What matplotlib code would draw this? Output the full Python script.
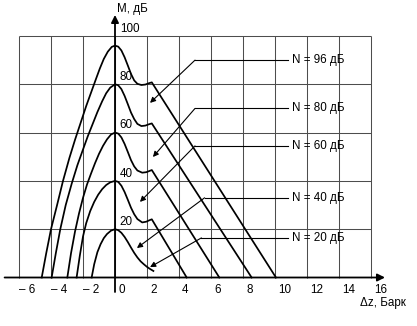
import matplotlib
matplotlib.use("Agg")
import matplotlib.pyplot as plt

plt.rcParams["font.family"] = ["Liberation Sans", "DejaVu Sans"]

# masker levels, dB
levels = [96, 80, 60, 40, 20]

# masking curves, (dz in Bark, M in dB)
x96 = [-4.58, -4.3, -4.0, -3.62, -3.25, -2.85, -2.5, -2.15, -1.8, -1.5, -1.2, -0.95, -0.7, -0.45, -0.2, 0.0,
       0.2, 0.4, 0.6, 0.8, 1.0, 1.2, 1.4, 1.65, 1.9, 2.1, 2.3, 10.06]
y96 = [0, 10, 20, 30, 40, 49.5, 57, 64, 71, 76.5, 82, 86.5, 90.5, 93.5, 95.5, 96,
       95.6, 94, 91.2, 87.8, 84.3, 81.6, 80.2, 79.7, 79.9, 80.4, 80.8, 0]

x80 = [-3.96, -3.7, -3.42, -3.08, -2.7, -2.35, -2.0, -1.7, -1.4, -1.1, -0.8, -0.55, -0.3, 0.0,
       0.2, 0.4, 0.6, 0.8, 1.0, 1.2, 1.4, 1.65, 1.9, 2.1, 2.3, 8.54]
y80 = [0, 10, 20, 30, 39, 46.5, 53, 58.5, 63.5, 68.5, 73, 76.3, 78.6, 80,
       79.6, 78, 75.2, 71.8, 68.3, 65.6, 63.6, 62.7, 62.9, 63.4, 63.8, 0]

x60 = [-2.98, -2.75, -2.5, -2.25, -2.0, -1.75, -1.5, -1.25, -1.0, -0.75, -0.5, -0.25, 0.0,
       0.2, 0.4, 0.6, 0.8, 1.0, 1.2, 1.4, 1.7, 1.95, 2.15, 2.3, 6.52]
y60 = [0, 10, 19, 26.5, 33, 38.5, 43, 47.3, 51.2, 54.5, 57.2, 59.2, 60,
       59.6, 58, 55.3, 52, 48.6, 46, 44.3, 43.4, 43.6, 44.1, 44.5, 0]

x40 = [-2.4, -2.2, -2.0, -1.8, -1.55, -1.3, -1.05, -0.8, -0.55, -0.3, 0.0,
       0.2, 0.4, 0.6, 0.8, 1.0, 1.2, 1.4, 1.7, 1.95, 2.15, 2.3, 4.48]
y40 = [0, 9, 17, 22.5, 27.5, 31.3, 34.3, 36.6, 38.3, 39.4, 40,
       39.6, 38, 35.4, 32.2, 28.9, 26.2, 24.2, 22.8, 23.1, 23.7, 24.1, 0]

x20 = [-1.46, -1.3, -1.1, -0.9, -0.7, -0.5, -0.25, 0.0,
       0.2, 0.4, 0.6, 0.8, 1.0, 1.2, 1.4, 1.6, 1.8, 2.0, 2.2, 2.4]
y20 = [0, 5.5, 10.5, 13.8, 16.3, 18, 19.4, 20,
       19.6, 18.5, 16.8, 14.7, 12.4, 10.2, 8.3, 6.7, 5.5, 4.4, 3.5, 2.7]

curves_x = [x96, x80, x60, x40, x20]
curves_y = [y96, y80, y60, y40, y20]

# callout leaders: height of the label line, knee x, arrow tip
label_y = [90, 70, 54.5, 33, 16.4]
knee_x = [5.0, 5.0, 5.0, 5.6, 5.4]
tip_x = [2.19, 2.37, 1.56, 1.37, 2.19]
tip_y = [72.3, 49.9, 31.3, 12.2, 4.3]

x_ticks = [-6, -4, -2, 0, 2, 4, 6, 8, 10, 12, 14, 16]
y_ticks = [20, 40, 60, 80, 100]

fig = plt.figure(figsize=(4.17, 3.26), dpi=100)
ax = fig.add_axes([0, 0, 1, 1])
ax.set_xlim(-7.1875, 18.875)
ax.set_ylim(-20.08, 114.9)
ax.axis("off")

# grid box
ax.vlines(x_ticks, 0, 100, color="#4d4d4d", lw=0.75, zorder=1)
ax.hlines(y_ticks, -6, 16, color="#4d4d4d", lw=0.75, zorder=1)

# axes with arrows
ax.annotate("", xy=(16.875, 0), xytext=(-6.9, 0),
            arrowprops=dict(arrowstyle="-|>", lw=1.3, color="k", mutation_scale=11,
                            shrinkA=0, shrinkB=0), zorder=3)
ax.annotate("", xy=(0, 108.7), xytext=(0, -6),
            arrowprops=dict(arrowstyle="-|>", lw=1.3, color="k", mutation_scale=11,
                            shrinkA=0, shrinkB=0), zorder=3)

for xs, ys in zip(curves_x, curves_y):
    ax.plot(xs, ys, color="k", lw=1.25, solid_joinstyle="round", zorder=2)

fs = 8.4
for lev, ly, kx, tx, ty in zip(levels, label_y, knee_x, tip_x, tip_y):
    ax.plot([10.8, kx], [ly, ly], color="k", lw=0.8, zorder=2)
    ax.annotate("", xy=(tx, ty), xytext=(kx, ly),
                arrowprops=dict(arrowstyle="-|>", lw=0.8, color="k", mutation_scale=8,
                                shrinkA=0, shrinkB=0), zorder=2)
    ax.text(11.05, ly, f"N = {lev} дБ", fontsize=fs, ha="left", va="center")

for v in x_ticks:
    if v < 0:
        ax.text(v, -5.2, f"– {abs(v)}", fontsize=fs, ha="left", va="center")
    else:
        ax.text(v + 0.2, -5.2, str(v), fontsize=fs, ha="left", va="center")

for v in y_ticks:
    ax.text(0.3, v + 3, str(v), fontsize=fs, ha="left", va="center")

ax.text(0.15, 111.2, "M, дБ", fontsize=fs, ha="left", va="center")
ax.text(15.3, -10.4, "Δz, Барк", fontsize=fs, ha="left", va="center")

fig.savefig("out.png", dpi=100)
